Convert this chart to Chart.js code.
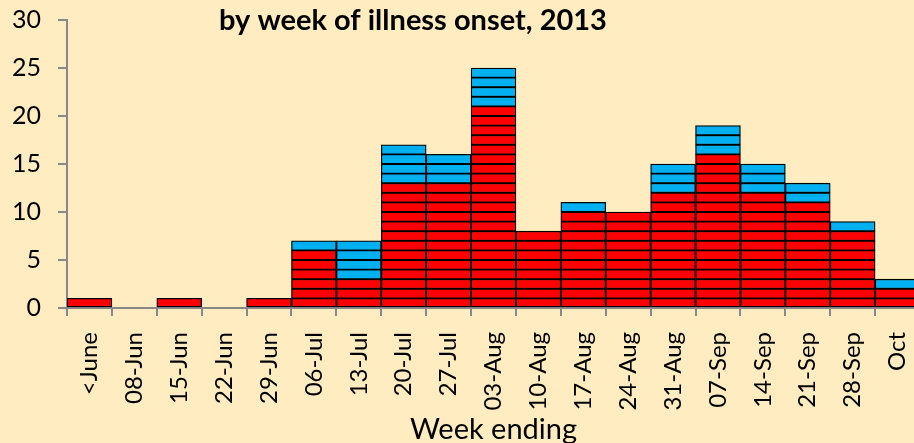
<!DOCTYPE html>
<html><head><meta charset="utf-8">
<script src="https://cdn.jsdelivr.net/npm/chart.js@4"></script>
<style>html,body{margin:0;padding:0;background:#FFECC1;overflow:hidden}#wrap{width:914px;height:443px;overflow:hidden}canvas{display:block}</style>
</head><body><div id="wrap"><canvas id="c" width="926" height="443"></canvas></div>
<script>
const categories = ['<June','08-Jun','15-Jun','22-Jun','29-Jun','06-Jul','13-Jul','20-Jul','27-Jul','03-Aug','10-Aug','17-Aug','24-Aug','31-Aug','07-Sep','14-Sep','21-Sep','28-Sep','Oct'];
const redCases  = [1,0,1,0,1,6,3,13,13,21,8,10,10,12,16,12,11,8,2];
const blueCases = [0,0,0,0,0,1,4,4,3,4,0,1,0,3,3,3,2,1,1];
const yTicks = [0,5,10,15,20,25,30];
const titleText = 'by week of illness onset, 2013';
const xTitle = 'Week ending';

const totals = categories.map((_, i) => redCases[i] + blueCases[i]);
const maxTotal = Math.max(...totals);
const datasets = [];
for (let k = 1; k <= maxTotal; k++) {
  datasets.push({
    data: totals.map(t => t >= k ? 1 : null),
    backgroundColor: redCases.map(r => k <= r ? '#FF0000' : '#00B0F0'),
    borderColor: '#000000',
    borderWidth: 1.3,
    borderSkipped: false,
    barPercentage: 1,
    categoryPercentage: 1,
    stack: 's'
  });
}

const titlePlugin = {
  id: 'fixedTitle',
  afterDraw(chart) {
    const ctx = chart.ctx;
    ctx.save();
    ctx.font = 'bold 29px Lato';
    ctx.fillStyle = '#000';
    ctx.textAlign = 'center';
    ctx.textBaseline = 'middle';
    ctx.fillText(titleText, 413, 21);
    ctx.restore();
  }
};

new Chart(document.getElementById('c'), {
  type: 'bar',
  data: { labels: categories, datasets },
  options: {
    responsive: false,
    animation: false,
    layout: { padding: { top: 20, right: 6, left: 0, bottom: 0 } },
    plugins: { legend: { display: false }, tooltip: { enabled: false } },
    scales: {
      x: {
        stacked: true,
        offset: true,
        grid: { display: true, drawOnChartArea: false, drawTicks: true, tickLength: 8, color: '#888888', lineWidth: 2, offset: true },
        border: { display: true, color: '#888888', width: 2 },
        ticks: { color: '#000', font: { family: 'Lato', size: 24 }, minRotation: 90, maxRotation: 90, padding: 16, autoSkip: false },
        title: { display: true, text: xTitle, color: '#000', font: { family: 'Lato', size: 29 }, padding: { top: 0, bottom: -4 } },
        afterFit(scale) { scale.height = 135; scale.paddingLeft = 0; scale.paddingRight = 0; }
      },
      y: {
        stacked: true,
        min: 0, max: 30,
        afterBuildTicks(scale) { scale.ticks = yTicks.map(v => ({ value: v })); },
        grid: { display: true, drawOnChartArea: false, drawTicks: true, tickLength: 9, color: '#888888', lineWidth: 2 },
        border: { display: true, color: '#888888', width: 2 },
        ticks: { color: '#000', font: { family: 'Lato', size: 25 }, padding: 17 },
        afterFit(scale) { scale.width = 67; scale.paddingTop = 0; scale.paddingBottom = 0; }
      }
    }
  },
  plugins: [titlePlugin]
});
</script></body></html>
